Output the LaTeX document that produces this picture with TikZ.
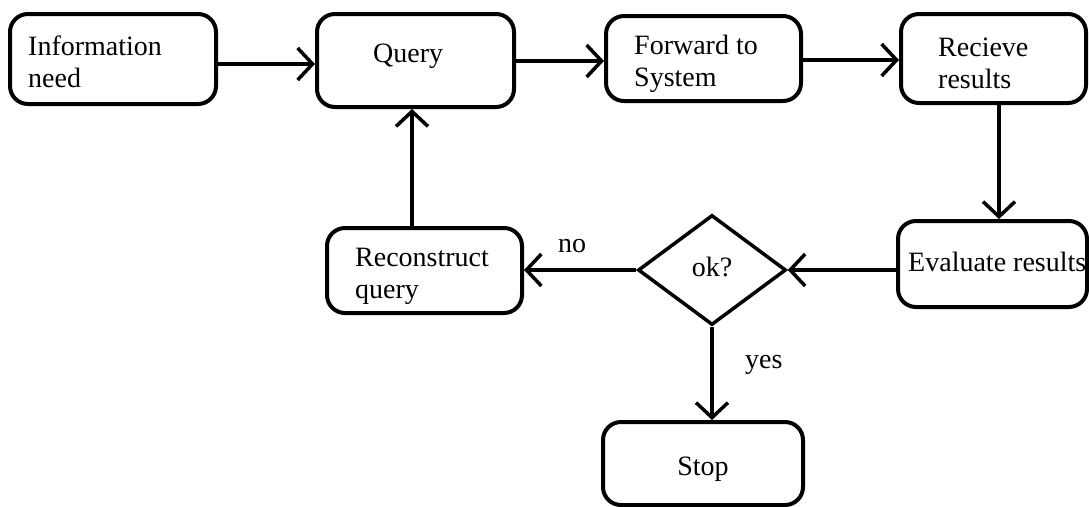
\documentclass[tikz,border=0pt]{standalone}
\usepackage{fontspec}
\setmainfont{Liberation Serif}
\usetikzlibrary{arrows.meta,shapes.geometric}
\begin{document}
\begin{tikzpicture}[x=1pt,y=-1pt,
  box/.style={draw, line width=4pt, rounded corners=18pt, inner sep=0pt},
  dec/.style={draw, diamond, line width=3.5pt, inner sep=0pt},
  txt/.style={inner sep=0pt, align=left, font=\fontsize{28}{32}\selectfont},
  conn/.style={line width=3.5pt, -{Straight Barb[length=15pt,width=32pt]}},
]
\useasboundingbox (0,0) rectangle (1089,506);

% boxes
\node[box, minimum width=206pt, minimum height=90pt] (info) at (113,59) {};
\node[box, minimum width=197pt, minimum height=93pt] (query) at (415.5,60.5) {};
\node[box, minimum width=195pt, minimum height=85pt] (forward) at (703.5,58.5) {};
\node[box, minimum width=185pt, minimum height=89pt] (recieve) at (993.5,58.5) {};
\node[box, minimum width=189pt, minimum height=86pt] (evaluate) at (992.5,264) {};
\node[box, minimum width=195pt, minimum height=85pt] (recon) at (424.5,270.5) {};
\node[box, minimum width=200pt, minimum height=83pt] (stop) at (703,463.5) {};
\node[dec, minimum width=148pt, minimum height=110pt] (ok) at (712,270) {};

% texts
\node[txt, anchor=north west] (infoT) at (28,35.5) {Information\\need};
\node[txt, anchor=north west] (queryT) at (373,43.5) {Query};
\node[txt, anchor=north west] (forwardT) at (634,35) {Forward to\\System};
\node[txt, anchor=north west] (recieveT) at (938,38) {Recieve\\results};
\node[txt, anchor=north west] (evaluateT) at (908,252) {Evaluate results};
\node[txt, anchor=north west] (reconT) at (355,248) {Reconstruct\\query};
\node[txt, anchor=base] (stopT) at (703,475) {Stop};
\node[txt, anchor=base] (okT) at (712,276) {ok?};
\node[txt, anchor=base] (noT) at (572,252) {no};
\node[txt, anchor=base west] (yesT) at (745,368) {yes};

% helper coordinates
\coordinate (ya) at (0,64);
\coordinate (yb) at (0,61);
\coordinate (yc) at (0,60);
\coordinate (xa) at (999,0);
\coordinate (xb) at (412,0);

% connectors
\draw[conn] (info.east |- ya) -- (query.west |- ya);
\draw[conn] (query.east |- yb) -- (forward.west |- yb);
\draw[conn] (forward.east |- yc) -- (recieve.west |- yc);
\draw[conn] (recieve.south -| xa) -- (evaluate.north -| xa);
\draw[conn] (evaluate.west |- ok.east) -- (ok.east);
\draw[conn] (ok.west) -- (ok.west -| recon.east);
\draw[conn] (recon.north -| xb) -- (query.south -| xb);
\draw[conn] (ok.south) -- (ok.south |- stop.north);
\end{tikzpicture}
\end{document}
